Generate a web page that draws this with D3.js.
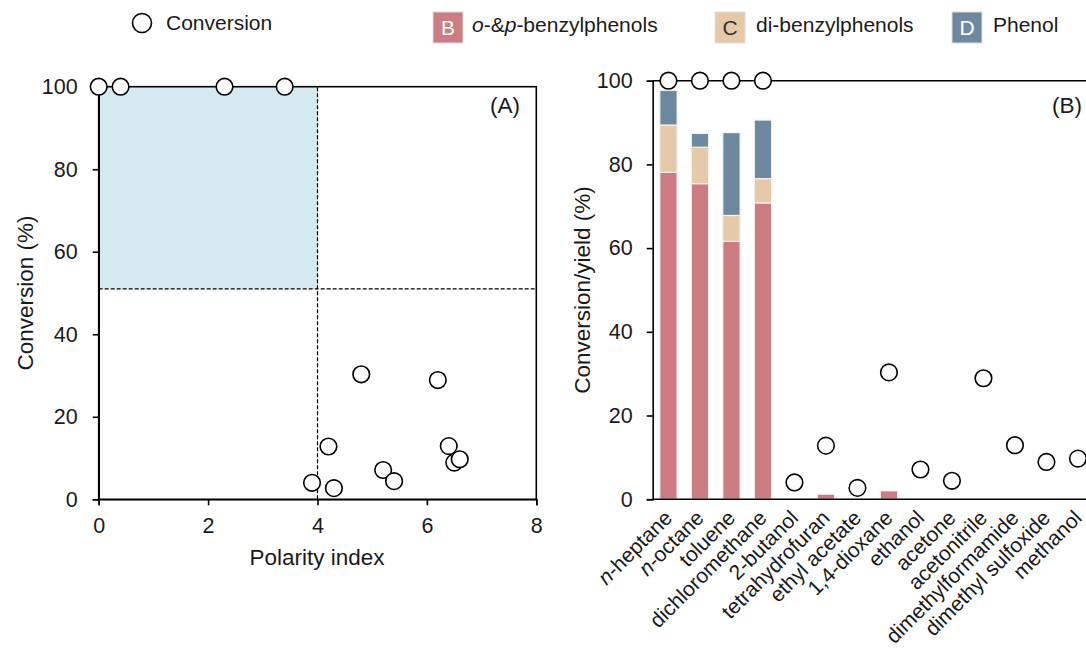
<!DOCTYPE html>
<html>
<head>
<meta charset="utf-8">
<script src="https://cdn.jsdelivr.net/npm/d3@7"></script>
<style>
  body { margin: 0; background: #fff; }
  svg { font-family: "Liberation Sans", Arial, sans-serif; }
</style>
</head>
<body>
<svg id="chart" width="1086" height="660"></svg>
<script>
// solvents, polarity index and conversion / yields (%)
const solvents = ['n-heptane', 'n-octane', 'toluene', 'dichloromethane', '2-butanol', 'tetrahydrofuran',
  'ethyl acetate', '1,4-dioxane', 'ethanol', 'acetone', 'acetonitrile', 'dimethylformamide',
  'dimethyl sulfoxide', 'methanol'];
const polarity = [0, 0.4, 2.3, 3.4, 3.9, 4.2, 4.3, 4.8, 5.2, 5.4, 6.2, 6.4, 6.5, 6.6];
const conversion = [100, 100, 100, 100, 4.0, 12.8, 2.7, 30.3, 7.1, 4.4, 28.9, 12.9, 8.9, 9.7];
const yieldBenzyl = [78.1, 75.4, 61.6, 70.8, 0, 1.2, 0, 2.0, 0, 0, 0, 0, 0, 0];
const yieldDiBenzyl = [11.3, 8.7, 6.2, 5.8, 0, 0, 0, 0, 0, 0, 0, 0, 0, 0];
const yieldPhenol = [8.3, 3.3, 19.8, 14.0, 0, 0, 0, 0, 0, 0, 0, 0, 0, 0];
const xTicksA = [0, 2, 4, 6, 8];
const yTicks = [0, 20, 40, 60, 80, 100];
const seriesKeys = ['benzyl', 'dibenzyl', 'phenol'];
const seriesColors = { benzyl: '#cd7d81', dibenzyl: '#e6c9a9', phenol: '#6e899f' };

const svg = d3.select('#chart');
const tickSize = 21.5;
const titleSize = 22.5;
const fontFam = '"Liberation Sans", Arial, sans-serif';

// ---------- panel A ----------
const a = { left: 98.7, right: 536.3, top: 86.7, bottom: 499.3 };
const xA = d3.scaleLinear().domain([0, 8]).range([a.left, a.right]);
const yA = d3.scaleLinear().domain([0, 100]).range([a.bottom, a.top]);

svg.append('rect')
  .attr('x', xA(0)).attr('y', yA(100))
  .attr('width', xA(4) - xA(0)).attr('height', yA(51) - yA(100))
  .attr('fill', '#d5e9f0');

svg.append('line')
  .attr('x1', xA(4)).attr('x2', xA(4)).attr('y1', yA(0)).attr('y2', yA(100))
  .attr('stroke', '#000').attr('stroke-width', 1.2).attr('stroke-dasharray', '4,2');
svg.append('line')
  .attr('x1', xA(0)).attr('x2', xA(8)).attr('y1', yA(51)).attr('y2', yA(51))
  .attr('stroke', '#000').attr('stroke-width', 1.2).attr('stroke-dasharray', '4,2');

// frame
svg.append('rect')
  .attr('x', a.left).attr('y', a.top)
  .attr('width', a.right - a.left).attr('height', a.bottom - a.top)
  .attr('fill', 'none').attr('stroke', '#000').attr('stroke-width', 1.6);

const axA_x = svg.append('g')
  .attr('transform', `translate(0,${a.bottom})`)
  .call(d3.axisBottom(xA).tickValues(xTicksA).tickSize(6).tickPadding(12));
const axA_y = svg.append('g')
  .attr('transform', `translate(${a.left},0)`)
  .call(d3.axisLeft(yA).tickValues(yTicks).tickSize(6).tickPadding(15));
[axA_x, axA_y].forEach(g => {
  g.select('.domain').attr('stroke-width', 1.6);
  g.selectAll('line').attr('stroke-width', 1.6);
  g.selectAll('text').style('font-size', tickSize + 'px').attr('fill', '#1a1a1a')
    .style('font-family', fontFam);
});

svg.append('g').selectAll('circle')
  .data(solvents.map((s, i) => ({ x: polarity[i], y: conversion[i] })))
  .enter().append('circle')
  .attr('cx', d => xA(d.x)).attr('cy', d => yA(d.y)).attr('r', 8.3)
  .attr('fill', '#fff').attr('stroke', '#000').attr('stroke-width', 1.6);

svg.append('text').attr('x', 520).attr('y', 113).attr('text-anchor', 'end')
  .attr('fill', '#1a1a1a').style('font-size', titleSize + 'px').text('(A)');
svg.append('text').attr('x', 317).attr('y', 565).attr('text-anchor', 'middle')
  .attr('fill', '#1a1a1a').style('font-size', titleSize + 'px').text('Polarity index');
svg.append('text').attr('transform', `translate(33,293) rotate(-90)`)
  .attr('text-anchor', 'middle').attr('fill', '#1a1a1a')
  .style('font-size', titleSize + 'px').text('Conversion (%)');

// ---------- panel B ----------
const b = { left: 652.7, top: 80.7, bottom: 499.2, step: 31.5 };
b.right = b.left + b.step * solvents.length;
const xB = d3.scaleBand().domain(solvents).range([b.left, b.right]).paddingInner(0.45).paddingOuter(0.225);
const xBc = d3.scalePoint().domain(solvents).range([b.left, b.right]).padding(0.5);
const yB = d3.scaleLinear().domain([0, 100]).range([b.bottom, b.top]);

const rows = solvents.map((s, i) => ({ solvent: s, benzyl: yieldBenzyl[i], dibenzyl: yieldDiBenzyl[i], phenol: yieldPhenol[i] }));
const stacked = d3.stack().keys(seriesKeys)(rows);

svg.append('g').selectAll('g')
  .data(stacked).enter().append('g')
  .attr('fill', d => seriesColors[d.key])
  .selectAll('rect')
  .data(d => d.filter(p => p[1] - p[0] > 0))
  .enter().append('rect')
  .attr('x', d => xB(d.data.solvent))
  .attr('width', xB.bandwidth())
  .attr('y', d => yB(d[1]))
  .attr('height', d => yB(d[0]) - yB(d[1]))
  .attr('stroke', '#f2f2f2').attr('stroke-width', 1.2);

svg.append('line')
  .attr('x1', b.left).attr('x2', b.right).attr('y1', b.top).attr('y2', b.top)
  .attr('stroke', '#000').attr('stroke-width', 1.6);
svg.append('line')
  .attr('x1', b.right).attr('x2', b.right).attr('y1', b.top).attr('y2', b.bottom)
  .attr('stroke', '#000').attr('stroke-width', 1.6);
svg.append('line')
  .attr('x1', b.left).attr('x2', b.right).attr('y1', b.bottom).attr('y2', b.bottom)
  .attr('stroke', '#000').attr('stroke-width', 1.6);

const axB_y = svg.append('g')
  .attr('transform', `translate(${b.left},0)`)
  .call(d3.axisLeft(yB).tickValues(yTicks).tickSize(6).tickPadding(14));
axB_y.select('.domain').attr('stroke-width', 1.6);
axB_y.selectAll('line').attr('stroke-width', 1.6);
axB_y.selectAll('text').style('font-size', tickSize + 'px').attr('fill', '#1a1a1a')
  .style('font-family', fontFam);

svg.append('g').selectAll('circle')
  .data(solvents.map((s, i) => ({ s, y: conversion[i] })))
  .enter().append('circle')
  .attr('cx', d => xBc(d.s)).attr('cy', d => yB(d.y)).attr('r', 8.3)
  .attr('fill', '#fff').attr('stroke', '#000').attr('stroke-width', 1.6);

// category labels
const catLabels = svg.append('g').selectAll('text')
  .data(solvents).enter().append('text')
  .attr('transform', d => `translate(${xBc(d) + 5},${b.bottom + 20}) rotate(-45)`)
  .attr('text-anchor', 'end').attr('fill', '#1a1a1a')
  .style('font-size', '21px');
catLabels.each(function (d) {
  const t = d3.select(this);
  if (d.startsWith('n-')) {
    t.append('tspan').style('font-style', 'italic').text('n');
    t.append('tspan').text(d.slice(1));
  } else {
    t.text(d);
  }
});

svg.append('text').attr('x', 1082).attr('y', 113).attr('text-anchor', 'end')
  .attr('fill', '#1a1a1a').style('font-size', titleSize + 'px').text('(B)');
svg.append('text').attr('transform', `translate(590,290) rotate(-90)`)
  .attr('text-anchor', 'middle').attr('fill', '#1a1a1a')
  .style('font-size', titleSize + 'px').text('Conversion/yield (%)');

// ---------- legend ----------
const legendSize = 21;
const legend = svg.append('g');
legend.append('circle').attr('cx', 142).attr('cy', 23).attr('r', 9.5)
  .attr('fill', '#fff').attr('stroke', '#000').attr('stroke-width', 1.6);
legend.append('text').attr('x', 166).attr('y', 30).attr('fill', '#1a1a1a')
  .style('font-size', legendSize + 'px').text('Conversion');

const boxes = [
  { key: 'benzyl', letter: 'B', x: 433, tx: 472 },
  { key: 'dibenzyl', letter: 'C', x: 715, tx: 756 },
  { key: 'phenol', letter: 'D', x: 952, tx: 993 }
];
boxes.forEach(bx => {
  legend.append('rect').attr('x', bx.x).attr('y', 12).attr('width', 30).attr('height', 31)
    .attr('fill', seriesColors[bx.key]).attr('stroke', '#ddd').attr('stroke-width', 1);
  legend.append('text').attr('x', bx.x + 15).attr('y', 35).attr('text-anchor', 'middle')
    .attr('fill', bx.key === 'dibenzyl' ? '#333' : '#fff').style('font-size', legendSize + 'px').text(bx.letter);
});
const t1 = legend.append('text').attr('x', 472).attr('y', 32).attr('fill', '#1a1a1a')
  .style('font-size', legendSize + 'px');
t1.append('tspan').style('font-style', 'italic').text('o');
t1.append('tspan').text('-&');
t1.append('tspan').style('font-style', 'italic').text('p');
t1.append('tspan').text('-benzylphenols');
legend.append('text').attr('x', 756).attr('y', 32).attr('fill', '#1a1a1a')
  .style('font-size', legendSize + 'px').text('di-benzylphenols');
legend.append('text').attr('x', 993).attr('y', 32).attr('fill', '#1a1a1a')
  .style('font-size', legendSize + 'px').text('Phenol');
</script>
</body>
</html>
